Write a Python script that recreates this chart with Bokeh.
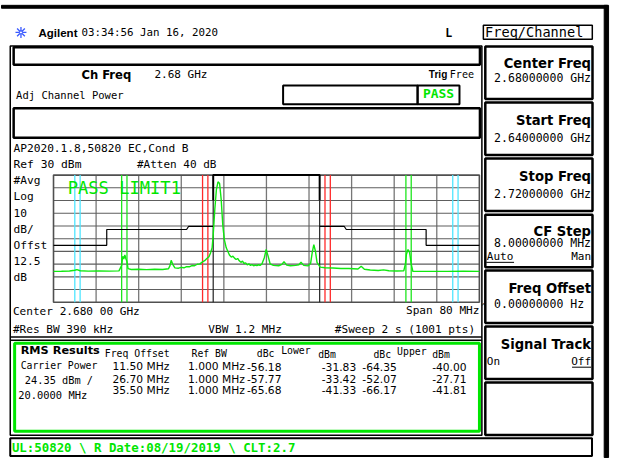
from bokeh.plotting import figure
from bokeh.models import Range1d
from bokeh.embed import file_html
from bokeh.resources import INLINE
from bokeh.core.properties import value

# ------------------------------------------------------------------ data
CENTER_MHZ = 2680.0
SPAN_MHZ = 80.0
REF_DBM = 30.0
DB_PER_DIV = 10.0
FREQ_TICKS = [2640, 2648, 2656, 2664, 2672, 2680, 2688, 2696, 2704, 2712, 2720]
DB_TICKS = [30, 20, 10, 0, -10, -20, -30, -40, -50, -60, -70]

TRACE_FREQ = [2640.0, 2641.5, 2643.0, 2644.0, 2644.4, 2645.0, 2646.5, 2648.5, 2650.5, 2652.3,
              2652.8, 2653.0, 2653.2, 2653.4, 2653.6, 2653.8, 2654.0, 2654.6, 2656.0, 2657.5,
              2659.0, 2660.5, 2661.6, 2661.9, 2662.1, 2662.4, 2662.8, 2663.5, 2664.0, 2664.5,
              2665.0, 2665.5, 2666.0, 2666.5, 2667.0, 2667.5, 2668.0, 2668.4, 2668.8, 2669.2,
              2669.5, 2669.8, 2670.0, 2670.3, 2670.6, 2670.9, 2671.2, 2671.5, 2671.8, 2672.1,
              2672.45, 2673.05, 2673.4, 2673.7, 2674.0, 2674.3, 2674.6, 2674.9, 2675.2, 2675.5,
              2675.8, 2676.1, 2676.4, 2676.7, 2677.0, 2677.3, 2677.6, 2677.9, 2678.2, 2678.5,
              2678.8, 2679.15, 2679.6, 2679.95, 2680.3, 2680.7, 2681.3, 2682.3, 2682.9, 2683.3,
              2683.8, 2684.5, 2685.5, 2686.1, 2686.5, 2687.0, 2687.8, 2688.3, 2688.6, 2688.9,
              2689.2, 2689.5, 2690.1, 2691.0, 2692.5, 2694.0, 2695.5, 2697.2, 2697.8, 2698.4,
              2699.5, 2701.0, 2702.0, 2703.0, 2704.5, 2705.8, 2706.1, 2706.3, 2706.6, 2706.9,
              2707.2, 2707.5, 2710.0, 2714.0, 2717.0, 2720.0]
TRACE_DBM = [-45.7, -45.6, -45.4, -44.8, -44.3, -45.2, -45.5, -45.4, -45.5, -45.3,
             -41.0, -33.8, -36.0, -32.8, -35.8, -38.0, -43.6, -44.2, -44.0, -44.3,
             -44.1, -44.2, -43.6, -41.0, -37.0, -40.2, -43.0, -43.2, -42.6, -42.9,
             -42.0, -42.1, -41.1, -41.3, -40.1, -39.8, -38.2, -37.3, -35.6, -34.2,
             -31.2, -27.0, -17.0, 3.0, 18.5, 24.7, 23.4, 10.8, -9.5, -20.9,
             -27.2, -32.8, -34.5, -33.8, -35.3, -36.4, -35.6, -37.4, -38.6, -37.7,
             -39.5, -39.0, -40.6, -39.8, -41.0, -40.4, -41.3, -40.8, -41.1, -40.5,
             -41.0, -39.9, -35.0, -28.5, -33.5, -39.9, -41.0, -41.3, -40.2, -38.1,
             -40.8, -41.3, -41.0, -40.5, -38.6, -41.0, -41.4, -39.5, -31.0, -24.7,
             -29.7, -38.6, -42.4, -42.9, -43.1, -43.4, -43.4, -43.8, -41.7, -44.0,
             -44.6, -45.0, -44.5, -45.2, -45.4, -45.3, -40.0, -32.3, -28.5, -31.0,
             -40.0, -45.6, -45.7, -45.7, -45.6, -45.7]

CHANNEL_LO, CHANNEL_HI = 2670.0, 2690.0
CHANNEL_MARK_DBM = 10.3
MASK_LOWER_FREQ = [2640, 2650, 2650, 2665.0, 2665.4, 2670]
MASK_LOWER_DBM = [-25.2, -25.2, -12.8, -12.8, -10.25, -10.25]
MASK_UPPER_FREQ = [2690, 2694.6, 2695.0, 2710, 2710, 2720]
MASK_UPPER_DBM = [-10.25, -10.25, -12.8, -12.8, -25.2, -25.2]

OFFSETS_MHZ = [11.50, 26.70, 35.50]
REF_BW_MHZ = [1.000, 1.000, 1.000]
LOWER_DBC = [-56.18, -57.77, -65.68]
LOWER_DBM = [-31.83, -33.42, -41.33]
UPPER_DBC = [-64.35, -52.07, -66.17]
UPPER_DBM = [-40.00, -27.71, -41.81]
OFFSET_COLORS = ["#ff2a2a", "#1ee61e", "#4fe6ff"]

SOFTKEY_TITLES = ["Center Freq", "Start Freq", "Stop Freq", "CF Step", "Freq Offset", "Signal Track", ""]
SOFTKEY_VALUES = ["2.68000000 GHz", "2.64000000 GHz", "2.72000000 GHz", "8.00000000 MHz", "0.00000000  Hz", "", ""]

# ------------------------------------------------------------------ layout
REF_W, REF_H = 627, 474
W, H = 611, 458
S = (W / REF_W + H / REF_H) / 2
MONO = "DejaVu Sans Mono"
SANS = "DejaVu Sans"
ARIAL = "Liberation Sans"
GREEN = "#00e600"

p = figure(width=W, height=H, x_range=Range1d(0, REF_W), y_range=Range1d(REF_H, 0),
           output_backend="svg", toolbar_location=None,
           x_axis_type=None, y_axis_type=None, min_border=0)
p.outline_line_color = None
p.background_fill_color = "white"
p.border_fill_color = "white"

GL, GR, GT, GB = 54.4, 491.4, 180.7, 312.3
F_LO, F_HI = CENTER_MHZ - SPAN_MHZ / 2, CENTER_MHZ + SPAN_MHZ / 2
D_HI, D_LO = REF_DBM, REF_DBM - 10 * DB_PER_DIV


def px_to_f(px):
    return F_LO + (px - GL) * (F_HI - F_LO) / (GR - GL)


def py_to_d(py):
    return D_HI - (py - GT) * (D_HI - D_LO) / (GB - GT)


p.extra_x_ranges = {"f": Range1d(px_to_f(0), px_to_f(REF_W))}
p.extra_y_ranges = {"db": Range1d(py_to_d(REF_H), py_to_d(0))}
SP = dict(x_range_name="f", y_range_name="db")


def rect(l, r, t, b, color="black", width=1.5, fill=None):
    p.quad(left=[l], right=[r], top=[t], bottom=[b], fill_color=fill,
           line_color=color, line_width=width)


def hseg(x0, x1, y, color="black", width=1.5):
    p.segment(x0=[x0], y0=[y], x1=[x1], y1=[y], line_color=color, line_width=width)


def txt(x, y, s, size, font=MONO, style="normal", color="black", align="left"):
    p.text(x=[x], y=[y], text=[s], text_font=value(font),
           text_font_size=f"{size * S:.1f}px", text_font_style=style,
           text_color=color, text_align=align, text_baseline="middle")


# ---- outer chrome
p.quad(left=[1, 619.5], right=[623, 624], top=[5, 5], bottom=[8, 473],
       fill_color="black", line_color="black", line_width=1)

# header
p.scatter(x=[21], y=[33], marker="asterisk", size=11, line_color="#3a5aff", line_width=1.3)
p.scatter(x=[21], y=[33], marker="circle", size=3, line_color="#3a5aff", fill_color="white", line_width=1)
txt(39, 33.3, "Agilent", 11.8, font=ARIAL, style="bold")
txt(83, 33.3, "03:34:56  Jan 16, 2020", 11.1)
txt(460, 33.5, "L", 12, style="bold", align="center")

# left panel
rect(10, 494, 47, 450, width=1.5)
rect(13.5, 492, 48.5, 66.5, width=2.5)
txt(83, 77, "Ch Freq", 12, font=SANS, style="bold")
txt(158, 77, "2.68 GHz", 11.3)
txt(439.5, 77, "Trig", 10.4, font=ARIAL, style="bold")
txt(461, 77, "Free", 10.4)
txt(16, 98, "Adj Channel Power", 10.8)
rect(290, 428, 88, 107.5, width=2)
rect(428, 471, 88, 107.5, width=2)
txt(449.5, 96, "PASS", 13.3, style="bold", color=GREEN, align="center")
rect(13.5, 492, 111.5, 142, width=2.5)
txt(13.3, 153, "AP2020.1.8,50820 EC,Cond B", 11.5)
txt(13.3, 170, "Ref 30 dBm", 11.6)
txt(140, 170, "#Atten 40 dB", 11.3)
for i, lab in enumerate(["#Avg", "Log", "10", "dB/", "Offst", "12.5", "dB"]):
    txt(13.3, 186.7 + 16.6 * i, lab, 11.5)

# ---- spectrum grid
inner_f = FREQ_TICKS[1:-1]
inner_d = DB_TICKS[1:-1]
p.segment(x0=inner_f, x1=inner_f, y0=D_LO, y1=D_HI, line_color="#777777", line_width=1.3, **SP)
p.segment(x0=F_LO, x1=F_HI, y0=inner_d, y1=inner_d, line_color="#5e5e5e", line_width=1.1, **SP)
p.quad(left=[F_LO], right=[F_HI], top=[D_HI], bottom=[D_LO], fill_color=None,
       line_color="#505050", line_width=1.6, **SP)

# offset measurement band edges
mk_x, mk_c = [], []
for off, bw, col in zip(OFFSETS_MHZ, REF_BW_MHZ, OFFSET_COLORS):
    for sgn in (-1, 1):
        for e in (-0.5, 0.5):
            mk_x.append(CENTER_MHZ + sgn * off + e * bw)
            mk_c.append(col)
p.segment(x0=mk_x, x1=mk_x, y0=D_LO, y1=D_HI, line_color=mk_c, line_width=1.3, **SP)

# channel edges
p.segment(x0=[CHANNEL_LO, CHANNEL_HI], x1=[CHANNEL_LO, CHANNEL_HI], y0=D_LO, y1=CHANNEL_MARK_DBM,
          line_color="#222222", line_width=1.2, **SP)

# limit mask
p.line(MASK_LOWER_FREQ, MASK_LOWER_DBM, line_color="black", line_width=1.2, **SP)
p.line(MASK_UPPER_FREQ, MASK_UPPER_DBM, line_color="black", line_width=1.2, **SP)

# trace
p.line(TRACE_FREQ, TRACE_DBM, line_color="#10e810", line_width=1.4, **SP)

# channel bracket
p.line([CHANNEL_LO, CHANNEL_LO, CHANNEL_HI, CHANNEL_HI],
       [CHANNEL_MARK_DBM, D_HI, D_HI, CHANNEL_MARK_DBM],
       line_color="black", line_width=2, **SP)

txt(69, 194, "PASS LIMIT1", 17.6, color=GREEN)

# lower annotations
txt(12.7, 321.7, "Center 2.680 00 GHz", 11.4)
txt(491.5, 321, "Span 80 MHz", 11.4, align="right")
txt(493.5, 316.5, "^", 8)
txt(12.7, 340, "#Res BW 390 kHz", 11.4)
txt(213.3, 340, "VBW 1.2 MHz", 11.4)
txt(487, 340, "#Sweep 2 s (1001 pts)", 11.4, align="right")
hseg(10, 494, 348.3, width=1.5)
hseg(10, 494, 351.7, width=1.5)

# RMS results box
rect(14.5, 491.5, 354.8, 445.8, color=GREEN, width=3)
txt(20.7, 362, "RMS Results", 11.6, font=SANS, style="bold")
txt(107, 365.5, "Freq Offset", 10.1)
txt(196, 365.5, "Ref BW", 10.1)
txt(263, 365.5, "dBc", 10.1)
txt(288, 362.5, "Lower", 10.1)
txt(326, 366.5, "dBm", 10.1)
txt(382.7, 366, "dBc", 10.1)
txt(407, 363, "Upper", 10.1)
txt(443, 366.5, "dBm", 10.1)
txt(20.7, 377.5, "Carrier Power", 10.1)
txt(25, 392.3, "24.35 dBm /", 10.6)
txt(18.3, 408.5, "20.0000 MHz", 10.7)
ROW_Y = [379, 392, 403.5]
for i in range(3):
    y = ROW_Y[i]
    txt(173.3, y, f"{OFFSETS_MHZ[i]:.2f} MHz", 11.0, font=SANS, align="right")
    txt(250.7, y, f"{REF_BW_MHZ[i]:.3f} MHz", 11.0, font=SANS, align="right")
    txt(288.3, y, f"{LOWER_DBC[i]:.2f}", 11.0, font=SANS, align="right")
    txt(365, y, f"{LOWER_DBM[i]:.2f}", 11.0, font=SANS, align="right")
    txt(406.7, y, f"{UPPER_DBC[i]:.2f}", 11.0, font=SANS, align="right")
    txt(478.3, y, f"{UPPER_DBM[i]:.2f}", 11.0, font=SANS, align="right")

# status bar
rect(10, 607, 453, 471.5, width=2)
txt(11.7, 463, "UL:50820 \\ R Date:08/19/2019 \\ CLT:2.7", 12.8, style="bold", color=GREEN)

# ---- softkeys
rect(495.5, 607.3, 25.5, 40, width=1.5)
txt(497.3, 32.6, "Freq/Channel", 14.0)
SK_L, SK_R = 497.5, 607.5
SK_TOPS = [47.7, 105.5, 163.5, 221.7, 279.5, 337.5, 395.3]
SK_H = 54.3
SK_TITLE_Y = [65.7, 124.5, 182.0, 238.7, 298.3, 356.0]
SK_VALUE_Y = [80.2, 142.0, 200.5, 251.3, 314.0, 0]
for i, top in enumerate(SK_TOPS):
    rect(SK_L, SK_R, top, top + SK_H, width=2.5)
    if SOFTKEY_TITLES[i]:
        txt(606, SK_TITLE_Y[i], SOFTKEY_TITLES[i], 13.6, font=SANS, style="bold", align="right")
    if SOFTKEY_VALUES[i]:
        txt(606, SK_VALUE_Y[i], SOFTKEY_VALUES[i], 11.9, align="right")
txt(499, 264.7, "Auto", 11.3)
hseg(498.5, 527, 271, width=1)
txt(606, 264.7, "Man", 11.3, align="right")
txt(499, 374, "On", 11.3)
txt(606, 374, "Off", 11.3, align="right")
hseg(586.5, 606, 379.5, width=1)

open("out.html", "w").write(file_html(p, INLINE))
